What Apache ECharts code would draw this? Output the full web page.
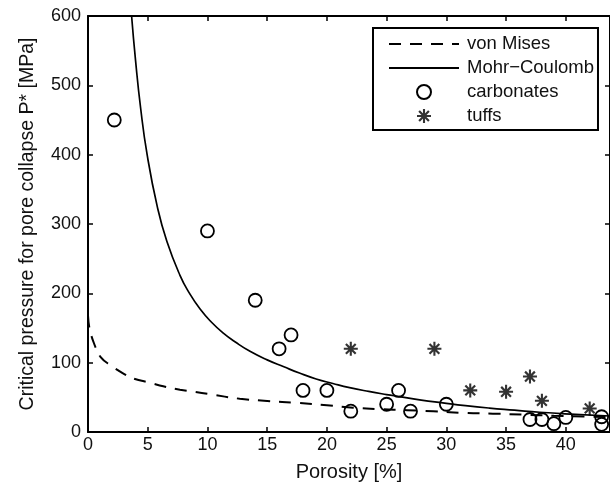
<!DOCTYPE html>
<html>
<head>
<meta charset="utf-8">
<script src="https://cdn.jsdelivr.net/npm/echarts@6/dist/echarts.min.js"></script>
<style>
html,body{margin:0;padding:0;background:#fff;}
#chart{width:610px;height:487px;}
</style>
</head>
<body>
<div id="chart"></div>
<script>
// ---- data ----
const xTicks = [0, 5, 10, 15, 20, 25, 30, 35, 40];
const yTicks = [0, 100, 200, 300, 400, 500, 600];

const vonMisesX = [0, 0.12, 0.5, 1.06, 1.9, 3, 3.84, 5.2, 6.3, 7.7, 8.85, 10.2, 12.7, 15, 17.5, 20, 22.2, 24.4, 26.7, 28.9, 31.65, 33.9, 36.4, 39, 41.5, 43.8];
const vonMisesY = [168, 150, 128, 108, 96, 84, 77, 71, 66, 61, 58, 54.5, 48, 44.7, 42, 38.5, 35, 33, 31.5, 29.8, 27.4, 26.5, 25, 23.5, 22.5, 21.5];

const mohrX = [3.65, 3.98, 4.4, 4.95, 5.8, 6.6, 7.7, 8.5, 9.4, 10.3, 11.3, 12.4, 13.6, 15, 16.4, 17.7, 19.1, 20.5, 21.9, 23.5, 25, 26.1, 27.9, 29.7, 31.6, 33.6, 35.7, 37.8, 40.8, 43.8];
const mohrY = [600, 536, 468, 400, 325, 275, 226, 200, 177, 159, 143, 129, 116, 104, 94, 85, 76.5, 70, 64, 58.5, 54, 51, 46, 42, 38, 34.5, 31.5, 28.5, 25.5, 23];

const carbX = [2.2, 10, 14, 16, 17, 18, 20, 22, 25, 26, 27, 30, 37, 38, 39, 40, 43, 43];
const carbY = [450, 290, 190, 120, 140, 60, 60, 30, 40, 60, 30, 40, 18, 18, 12, 21, 22, 11];

const tuffX = [22, 29, 32, 35, 37, 38, 42];
const tuffY = [120, 120, 60, 58, 80, 45, 34];

const seriesNames = ['von Mises', 'Mohr\u2212Coulomb', 'carbonates', 'tuffs'];

// ---- build ----
const zip = (a, b) => a.map((v, i) => [v, b[i]]);
const FONT = '"Liberation Sans", Arial, Helvetica, sans-serif';
const INK = '#111';
const asterisk = 'path://M-1.5,-10 L1.5,-10 L1.5,10 L-1.5,10 Z M-10,-1.5 L10,-1.5 L10,1.5 L-10,1.5 Z M-5.9,-8.1 L8.1,5.9 L5.9,8.1 L-8.1,-5.9 Z M-8.1,5.9 L5.9,-8.1 L8.1,-5.9 L-5.9,8.1 Z';

const xMin = xTicks[0], xMax = 43.7, yMin = yTicks[0], yMax = yTicks[yTicks.length - 1];
const hiddenIcon = {color: 'rgba(0,0,0,0)', borderWidth: 0, opacity: 0};

const chart = echarts.init(document.getElementById('chart'), null, {renderer: 'canvas'});
chart.setOption({
  animation: false,
  backgroundColor: '#fff',
  textStyle: {fontFamily: FONT, color: INK},
  grid: {left: 88, top: 16, width: 524, height: 416, show: false},
  legend: {
    orient: 'vertical',
    left: 373, top: 28,
    padding: [6, 4, 4, 15],
    itemWidth: 70, itemHeight: 14, itemGap: 4,
    borderColor: '#000', borderWidth: 2, backgroundColor: '#fff',
    textStyle: {fontFamily: FONT, fontSize: 18.5, color: INK, lineHeight: 20, padding: [0, 0, 0, 3]},
    data: [
      {name: seriesNames[0], itemStyle: hiddenIcon},
      {name: seriesNames[1], itemStyle: hiddenIcon},
      {name: seriesNames[2]},
      {name: seriesNames[3]}
    ]
  },
  xAxis: [{
    type: 'value', min: xMin, max: xMax, interval: 5,
    name: 'Porosity [%]', nameLocation: 'middle', nameGap: 30,
    nameTextStyle: {fontFamily: FONT, fontSize: 20, color: INK},
    axisLine: {show: true, onZero: false, lineStyle: {color: '#000', width: 2}},
    axisTick: {show: true, inside: true, length: 5, lineStyle: {color: '#000', width: 1.5}},
    axisLabel: {fontFamily: FONT, fontSize: 18, color: INK, margin: 4, showMaxLabel: false},
    splitLine: {show: false}
  }, {
    type: 'value', position: 'top', min: xMin, max: xMax, interval: 5,
    axisLine: {show: true, onZero: false, lineStyle: {color: '#000', width: 2}},
    axisTick: {show: true, inside: true, length: 5, lineStyle: {color: '#000', width: 1.5}},
    axisLabel: {show: false}, splitLine: {show: false}
  }],
  yAxis: [{
    type: 'value', min: yMin, max: yMax, interval: 100,
    name: 'Critical pressure for pore collapse P* [MPa]', nameLocation: 'middle', nameGap: 50,
    nameTextStyle: {fontFamily: FONT, fontSize: 19.5, color: INK},
    axisLine: {show: true, onZero: false, lineStyle: {color: '#000', width: 2}},
    axisTick: {show: true, inside: true, length: 5, lineStyle: {color: '#000', width: 1.5}},
    axisLabel: {fontFamily: FONT, fontSize: 18, color: INK, margin: 7},
    splitLine: {show: false}
  }, {
    type: 'value', position: 'right', min: yMin, max: yMax, interval: 100,
    axisLine: {show: true, onZero: false, lineStyle: {color: '#000', width: 2}},
    axisTick: {show: true, inside: true, length: 5, lineStyle: {color: '#000', width: 1.5}},
    axisLabel: {show: false}, splitLine: {show: false}
  }],
  series: [{
    name: seriesNames[0], type: 'line', data: zip(vonMisesX, vonMisesY),
    showSymbol: false, symbol: 'none', smooth: 0.4, clip: true,
    lineStyle: {color: '#000', width: 2, type: [12, 9]},
    itemStyle: {color: '#000'}, z: 2
  }, {
    name: seriesNames[1], type: 'line', data: zip(mohrX, mohrY),
    showSymbol: false, symbol: 'none', smooth: 0.5, clip: true,
    lineStyle: {color: '#000', width: 1.7},
    itemStyle: {color: '#000'}, z: 2
  }, {
    name: seriesNames[2], type: 'scatter', data: zip(carbX, carbY),
    symbol: 'circle', symbolSize: 13,
    itemStyle: {color: 'rgba(0,0,0,0)', borderColor: '#000', borderWidth: 1.8, opacity: 1},
    z: 3
  }, {
    name: seriesNames[3], type: 'scatter', data: zip(tuffX, tuffY),
    symbol: asterisk, symbolSize: 14,
    itemStyle: {color: '#000'}, z: 3
  }]
});
</script>
</body>
</html>
